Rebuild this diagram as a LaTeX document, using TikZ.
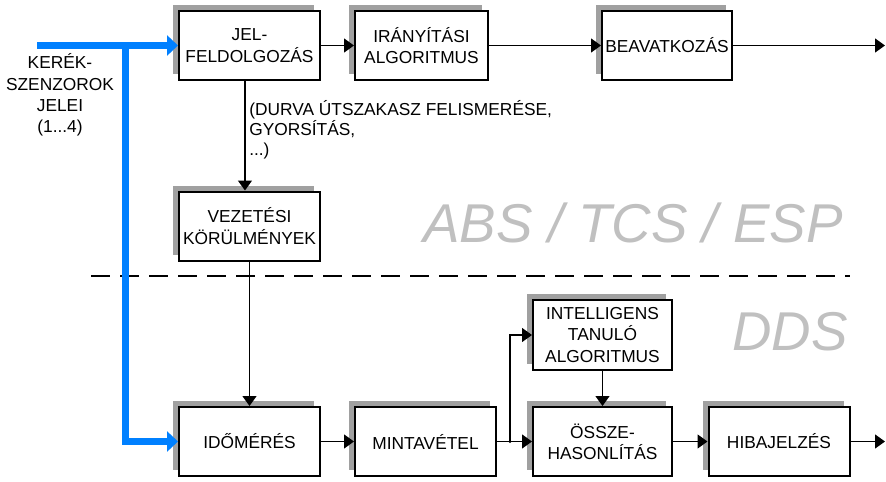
\documentclass[tikz,border=0pt]{standalone}
\usepackage{fontspec}
\setmainfont{Liberation Sans}
\usetikzlibrary{arrows.meta,shadows}
\definecolor{sensorblue}{RGB}{0,128,255}
\definecolor{shadowgray}{RGB}{160,160,160}
\definecolor{labelgray}{RGB}{192,192,192}
\begin{document}
\begin{tikzpicture}[x=0.75pt,y=-0.75pt,
        block/.style={draw,line width=1.5pt,fill=white,align=center,inner sep=2pt,
            minimum width=105.75pt,minimum height=51.75pt,
            font=\fontsize{13}{16}\selectfont,
            general shadow={fill=shadowgray,shadow xshift=-4.5pt,shadow yshift=4.5pt}},
        conn/.style={line width=1pt,-{Triangle[length=7.5pt,width=10.5pt]}},
        sensor/.style={line width=5.25pt,sensorblue,-{Triangle[length=8.25pt,width=15pt]}},
        bigtext/.style={text=labelgray,inner sep=0pt,anchor=base east,
            font=\fontsize{41}{41}\selectfont\itshape}]
        \useasboundingbox (0,0) rectangle (886,482);
        %% Upper row
        \node[block] (jel) at (249.5,45.5) {JEL-\\FELDOLGOZÁS};
        \node[block,minimum width=99.75pt] (iranyitas) at (421.5,45.5) {IRÁNYÍTÁSI\\ALGORITMUS};
        \node[block,minimum width=97.5pt] (beavatkozas) at (667,45.5) {BEAVATKOZÁS};
        \node[block] (vezetesi) at (249.5,226) {VEZETÉSI\\KÖRÜLMÉNYEK};
        %% Lower row
        \node[block] (idomeres) at (249.5,441.5) {IDŐMÉRÉS};
        \node[block] (mintavetel) at (425.5,441.5) {MINTAVÉTEL};
        \node[block,minimum width=104.25pt,minimum height=52.5pt] (intelligens) at (602.5,335) {INTELLIGENS\\TANULÓ\\ALGORITMUS};
        \node[block,minimum width=104.25pt] (osszehas) at (602.5,441.5) {ÖSSZE-\\HASONLÍTÁS};
        \node[block] (hiba) at (779,441.5) {HIBAJELZÉS};
        %% Labels
        \node[align=center,font=\fontsize{13}{16}\selectfont] (kerek) at (60,95) {KERÉK-\\SZENZOROK\\JELEI\\(1...4)};
        \node[anchor=north west,align=left,inner sep=0pt,font=\fontsize{13}{15}\selectfont] (durva) at (249,100)
            {(DURVA ÚTSZAKASZ FELISMERÉSE,\\GYORSÍTÁS,\\...)};
        \node[bigtext] (abs) at (843,242) {ABS / TCS / ESP};
        \node[bigtext] (dds) at (848,350) {DDS};
        %% Separator
        \draw[line width=1.5pt,dash pattern=on 14.25pt off 7.5pt] (91,276) -- (850,276);
        %% Wheel sensor signals
        \coordinate (sensorin) at (37,45.5);
        \coordinate (split) at (125.5,45.5);
        \draw[sensor] (sensorin) -- (jel.west);
        \draw[sensor] (split) |- (idomeres.west);
        %% Connectors
        \coordinate (out1) at (885,45.5);
        \coordinate (out2) at (885,441.5);
        \coordinate (branch) at (510,441.5);
        \draw[conn] (jel) -- (iranyitas);
        \draw[conn] (iranyitas) -- (beavatkozas);
        \draw[conn] (beavatkozas) -- (out1);
        \draw[conn] ([xshift=-3.4pt]jel.south) -- ([xshift=-3.4pt]vezetesi.north);
        \draw[conn] (vezetesi) -- (idomeres);
        \draw[conn] (idomeres) -- (mintavetel);
        \draw[line width=1pt] (mintavetel) -- (branch);
        \draw[conn] (branch) -- (osszehas);
        \draw[conn] (branch) |- (intelligens);
        \fill (branch) circle (1.2pt);
        \draw[conn] (intelligens) -- (osszehas);
        \draw[conn] (osszehas) -- (hiba);
        \draw[conn] (hiba) -- (out2);
    \end{tikzpicture}
\end{document}
